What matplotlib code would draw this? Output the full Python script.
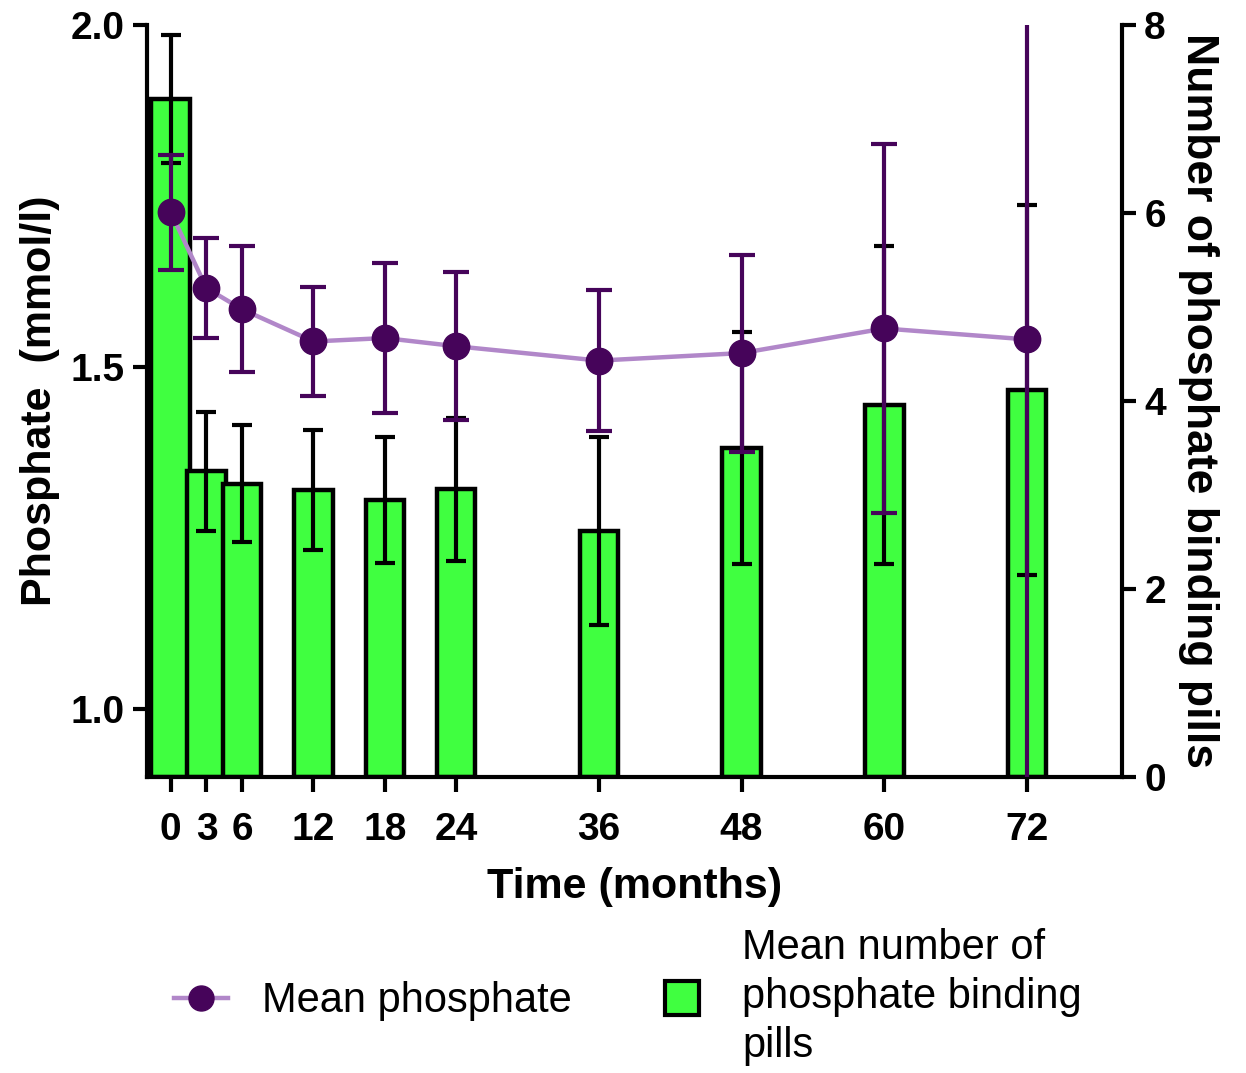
import numpy as np
import matplotlib
matplotlib.use("Agg")
import matplotlib.pyplot as plt
from matplotlib.lines import Line2D

plt.rcParams["font.family"] = ["Liberation Sans", "DejaVu Sans"]

# Data
months = [0, 3, 6, 12, 18, 24, 36, 48, 60, 72]
phosphate_mean = [1.726, 1.615, 1.584, 1.537, 1.542, 1.530, 1.509, 1.520, 1.556, 1.540]
phosphate_err = [0.084, 0.073, 0.092, 0.080, 0.110, 0.108, 0.103, 0.144, 0.270, 0.700]
pills_mean = [7.21, 3.25, 3.12, 3.05, 2.95, 3.06, 2.62, 3.50, 3.96, 4.12]
pills_err = [0.68, 0.63, 0.62, 0.64, 0.67, 0.76, 1.00, 1.23, 1.69, 1.97]

green = "#40ff40"
dark_purple = "#46045a"
light_purple = "#b187c9"

fig = plt.figure(figsize=(12.46, 10.73), dpi=100)
ax = fig.add_axes([0.118, 0.276, 0.7825, 0.7007])
ax2 = ax.twinx()

# Bars on right axis
for m, v, e in zip(months, pills_mean, pills_err):
    ax2.bar(m, v, width=3.25, color=green, edgecolor="black", linewidth=3.2, zorder=2)
    ax2.errorbar(m, v, yerr=e, fmt="none", ecolor="black", elinewidth=3,
                 capsize=7.5, capthick=3, zorder=3)

ax2.set_ylim(0, 8)
ax2.set_yticks([0, 2, 4, 6, 8])

# Line on left axis, drawn above bars
ax.set_zorder(ax2.get_zorder() + 1)
ax.patch.set_visible(False)
ax.plot(months, phosphate_mean, color=light_purple, lw=3.2, zorder=2)
ax.errorbar(months, phosphate_mean, yerr=phosphate_err, fmt="none",
            ecolor=dark_purple, elinewidth=3, capsize=9.5, capthick=3, zorder=3)
ax.plot(months, phosphate_mean, "o", color=dark_purple, ms=19, zorder=4)

ax.set_xlim(-2, 80)
ax.set_ylim(0.9, 2.0)
ax.set_yticks([1.0, 1.5, 2.0])
ax.set_xticks(months)

for a in (ax, ax2):
    a.spines["top"].set_visible(False)
    for s in ("left", "right", "bottom"):
        a.spines[s].set_linewidth(3)
    a.tick_params(width=3, length=10, pad=6)

ax.spines["right"].set_visible(False)
ax2.spines["left"].set_visible(False)
ax2.spines["bottom"].set_visible(False)
ax.tick_params(axis="x", length=11, pad=14)

for lbl in ax.get_xticklabels() + ax.get_yticklabels() + ax2.get_yticklabels():
    lbl.set_fontweight("bold")
    lbl.set_fontsize(28)

ax.set_xlabel("Time (months)", fontsize=31, fontweight="bold", labelpad=14)
ax.set_ylabel("Phosphate  (mmol/l)", fontsize=31, fontweight="bold", labelpad=8)
ax2.set_ylabel("Number of phosphate binding pills", fontsize=32, fontweight="bold",
               rotation=270, labelpad=38)

handles = [
    Line2D([], [], color=light_purple, lw=3.2, marker="o", ms=18,
           markerfacecolor=dark_purple, markeredgecolor=dark_purple),
    Line2D([], [], linestyle="none", marker="s", ms=24, markerfacecolor=green,
           markeredgecolor="black", markeredgewidth=3),
]
leg = fig.legend(handles, ["Mean phosphate", "Mean number of\nphosphate binding\npills"],
                 loc="center", bbox_to_anchor=(0.504, 0.071), ncol=2, frameon=False,
                 fontsize=30, handlelength=1.3, columnspacing=2.0, handletextpad=0.8,
                 labelspacing=0.2)
for t in leg.get_texts():
    t.set_linespacing(1.3)

fig.savefig("out.png", dpi=100)
